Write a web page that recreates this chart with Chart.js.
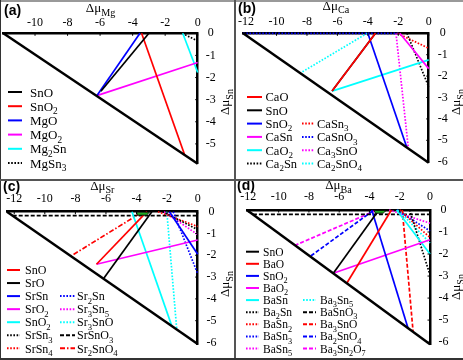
<!DOCTYPE html>
<html><head><meta charset="utf-8">
<script src="https://cdn.jsdelivr.net/npm/chart.js@4.4.0/dist/chart.umd.min.js"></script>
<style>
html,body{margin:0;padding:0;background:#fff;}
#wrap{position:relative;width:463px;height:360px;overflow:hidden;background:#fff;}
canvas{position:absolute;}
.ln{position:absolute;z-index:5;}
</style></head><body>
<div id="wrap">
<canvas id="ca" width="234" height="179" style="left:0;top:0;width:234px;height:179px"></canvas>
<canvas id="cb" width="229" height="179" style="left:234px;top:0;width:229px;height:179px"></canvas>
<canvas id="cc" width="234" height="180" style="left:0;top:180px;width:234px;height:180px"></canvas>
<canvas id="cd" width="229" height="180" style="left:234px;top:180px;width:229px;height:180px"></canvas>
<div class="ln" style="left:0;top:0;width:463px;height:2px;background:#999"></div>
<div class="ln" style="left:0;top:0;width:1px;height:360px;background:#333"></div>
<div class="ln" style="left:234px;top:0;width:1.5px;height:360px;background:#555"></div>
<div class="ln" style="left:0;top:179px;width:463px;height:1.5px;background:#555"></div>
<div class="ln" style="left:0;top:358px;width:463px;height:2px;background:#333"></div>
</div>
<script>
// ---------------- DATA ----------------
// tick labels
const aXTicks = [-10, -8, -6, -4, -2, 0];
const aYTicks = [0, -1, -2, -3, -4, -5];
const bXTicks = [-12, -10, -8, -6, -4, -2, 0];
const bYTicks = [0, -1, -2, -3, -4, -5, -6];

// axis titles (main, subscript)
const aXTitle = ['Δμ', 'Mg'];
const bXTitle = ['Δμ', 'Ca'];
const cXTitle = ['Δμ', 'Sr'];
const dXTitle = ['Δμ', 'Ba'];
const yTitle = ['Δμ', 'Sn'];

// Panel (a) : Mg-Sn-O
const aNames = ['SnO', 'SnO₂', 'MgO', 'MgO₂', 'Mg₂Sn', 'MgSn₃'];
const aX0 = [-3.0, -3.45, -3.55, -6.2, -0.92, -0.95];
const aY0 = [0, 0, 0, -2.82, 0, 0];
const aX1 = [-5.95, -0.8, -6.2, 0, 0, 0];
const aY1 = [-2.62, -5.5, -2.82, -1.32, -1.77, -0.35];
const aEdgeX = [-11.95, 0];
const aEdgeY = [0, -5.9];

// Panel (b) : Ca-Sn-O
const bNames = ['CaO', 'SnO', 'SnO₂', 'CaSn', 'CaO₂', 'Ca₂Sn', 'CaSn₃', 'CaSnO₃', 'Ca₃SnO', 'Ca₂SnO₄'];
const bX0 = [-3.5, -3.5, -4.0, -1.9, -6.35, -1.43, -2.05, -12.2, -2.15, -4.05];
const bY0 = [0, 0, 0, 0, -2.7, 0, 0, 0, 0, 0];
const bX1 = [-6.35, -6.35, -1.43, 0, 0, 0, 0, -2.0, -1.35, -8.42];
const bY1 = [-2.7, -2.7, -5.35, -1.65, -1.24, -2.5, -0.7, 0, -5.3, -1.85];
const bEdgeX = [-12.2, 0];
const bEdgeY = [0, -6.05];

// Panel (c) : Sr-Sn-O
const cNames = ['SnO', 'SrO', 'SrSn', 'SrO₂', 'SnO₂', 'SrSn₃', 'SrSn₄', 'Sr₂Sn', 'Sr₃Sn₅', 'Sr₃SnO', 'SrSnO₃', 'Sr₂SnO₄'];
const cX0 = [-3.32, -3.0, -1.85, -6.62, -4.3, -2.3, -2.6, -1.6, -2.2, -2.02, -12.1, -3.75];
const cY0 = [0, 0, 0, -2.41, 0, 0, 0, 0, 0, 0, -0.18, -0.07];
const cX1 = [-6.62, -6.14, 0, 0, -1.69, 0, 0, 0, 0, -1.37, 0, -8.26];
const cY1 = [-2.41, -3.05, -1.95, -1.3, -5.25, -0.82, -0.68, -2.85, -1.05, -5.4, -0.18, -2.02];
const cEdgeX = [-12.48, 0];
const cEdgeY = [0, -6.07];
const cRegionX = [-4.0, -3.15, -3.35, -3.95, -4.0];
const cRegionY = [-0.02, -0.02, -0.16, -0.16, -0.02];

// Panel (d) : Ba-Sn-O
const dNames = ['SnO', 'BaO', 'SnO₂', 'BaO₂', 'BaSn', 'Ba₂Sn', 'BaSn₂', 'BaSn₃', 'BaSn₅', 'Ba₃Sn₅', 'BaSnO₃', 'Ba₃SnO', 'Ba₂SnO₄', 'Ba₃Sn₂O₇'];
const dX0 = [-3.38, -2.55, -3.85, -6.3, -2.2, -1.35, -2.0, -2.2, -2.7, -2.1, -11.7, -1.83, -3.8, -3.6];
const dY0 = [0, 0, 0, -2.85, 0, 0, 0, 0, 0, 0, -0.2, 0, -0.05, -0.03];
const dX1 = [-6.4, -5.5, -1.45, 0, 0, 0, 0, 0, 0, 0, 0, -1.12, -7.9, -8.9];
const dY1 = [-2.88, -3.33, -5.37, -1.35, -2.0, -2.95, -1.25, -0.95, -0.6, -1.5, -0.2, -5.5, -2.1, -1.6];
const dEdgeX = [-12.1, 0];
const dEdgeY = [0, -6.1];
const dRegionX = [-3.7, -2.9, -3.1, -3.6, -3.7];
const dRegionY = [-0.02, -0.02, -0.15, -0.15, -0.02];

// ---------------- STYLES ----------------
const RED = '#ff0000', BLUE = '#0000ff', MAG = '#ff00ff', CYA = '#00ffff', BLK = '#000000';
const DOT = [1.6, 1.6], DASH = [4, 2], DASHDOT = [5, 2, 1.5, 2];
function st(c, d) { return { c: c, d: d || [] }; }
const aStyle = { 'SnO': st(BLK), 'SnO₂': st(RED), 'MgO': st(BLUE), 'MgO₂': st(MAG), 'Mg₂Sn': st(CYA), 'MgSn₃': st(BLK, DOT) };
const bStyle = { 'CaO': st(RED), 'SnO': st(BLK), 'SnO₂': st(BLUE), 'CaSn': st(MAG), 'CaO₂': st(CYA), 'Ca₂Sn': st(BLK, DOT),
  'CaSn₃': st(RED, DOT), 'CaSnO₃': st(BLUE, DOT), 'Ca₃SnO': st(MAG, DOT), 'Ca₂SnO₄': st(CYA, DOT) };
const cStyle = { 'SnO': st(RED), 'SrO': st(BLK), 'SrSn': st(BLUE), 'SrO₂': st(MAG), 'SnO₂': st(CYA), 'SrSn₃': st(BLK, DOT),
  'SrSn₄': st(RED, DOT), 'Sr₂Sn': st(BLUE, DOT), 'Sr₃Sn₅': st(MAG, DOT), 'Sr₃SnO': st(CYA, DOT), 'SrSnO₃': st(BLK, DASH), 'Sr₂SnO₄': st(RED, DASHDOT) };
const dStyle = { 'SnO': st(BLK), 'BaO': st(RED), 'SnO₂': st(BLUE), 'BaO₂': st(MAG), 'BaSn': st(CYA), 'Ba₂Sn': st(BLK, DOT),
  'BaSn₂': st(RED, DOT), 'BaSn₃': st(BLUE, DOT), 'BaSn₅': st(MAG, DOT), 'Ba₃Sn₅': st(CYA, DOT), 'BaSnO₃': st(BLK, DASH),
  'Ba₃SnO': st(RED, DASH), 'Ba₂SnO₄': st(BLUE, DASH), 'Ba₃Sn₂O₇': st(MAG, DASH) };

const SERIF = "'Liberation Serif','Times New Roman',serif";
const SUBS = { '₀': '0', '₁': '1', '₂': '2', '₃': '3', '₄': '4', '₅': '5', '₆': '6', '₇': '7', '₈': '8', '₉': '9' };

function chemRuns(text) {
  const runs = [];
  for (const ch of text) {
    const sub = !!SUBS[ch];
    const c = sub ? SUBS[ch] : ch;
    if (runs.length && runs[runs.length - 1].sub === sub) runs[runs.length - 1].t += c;
    else runs.push({ t: c, sub: sub });
  }
  return runs;
}
function drawChem(ctx, text, x, y, size) {
  let cx = x;
  ctx.textAlign = 'left'; ctx.textBaseline = 'alphabetic'; ctx.fillStyle = '#000';
  for (const r of chemRuns(text)) {
    const s = r.sub ? size * 0.72 : size;
    ctx.font = s + 'px ' + SERIF;
    ctx.fillText(r.t, cx, r.sub ? y + size * 0.28 : y);
    cx += ctx.measureText(r.t).width;
  }
}
function drawTitle(ctx, parts, cx, y, size) {
  ctx.font = size + 'px ' + SERIF;
  const w1 = ctx.measureText(parts[0]).width;
  ctx.font = (size * 0.78) + 'px ' + SERIF;
  const w2 = ctx.measureText(parts[1]).width;
  let x = cx - (w1 + w2) / 2;
  ctx.textAlign = 'left'; ctx.textBaseline = 'alphabetic'; ctx.fillStyle = '#000';
  ctx.font = size + 'px ' + SERIF;
  ctx.fillText(parts[0], x, y);
  ctx.font = (size * 0.78) + 'px ' + SERIF;
  ctx.fillText(parts[1], x + w1, y + size * 0.3);
}

const panelPlugin = {
  id: 'panelDeco',
  afterDatasetsDraw(chart, args, o) {
    const ctx = chart.ctx, a = chart.chartArea;
    const xs = chart.scales.x, ys = chart.scales.y;
    ctx.save();
    // inward tick marks
    ctx.strokeStyle = '#000'; ctx.lineWidth = 1; ctx.setLineDash([]);
    xs.ticks.forEach(t => { const p = xs.getPixelForValue(t.value); ctx.beginPath(); ctx.moveTo(p, a.top); ctx.lineTo(p, a.top + 2.5); ctx.stroke(); });
    ys.ticks.forEach(t => { const p = ys.getPixelForValue(t.value); ctx.beginPath(); ctx.moveTo(a.right, p); ctx.lineTo(a.right - 2.5, p); ctx.stroke(); });
    // panel label
    ctx.fillStyle = '#000'; ctx.textAlign = 'left'; ctx.textBaseline = 'alphabetic';
    ctx.font = "bold 14px 'Liberation Sans', Arial, sans-serif";
    ctx.fillText(o.tag, o.tagX, o.tagY);
    // axis titles
    drawTitle(ctx, o.xTitle, (a.left + a.right) / 2, o.xTitleY, 13);
    ctx.save();
    ctx.translate(o.yTitleX, o.yTitleY);
    ctx.rotate(-Math.PI / 2);
    drawTitle(ctx, yTitle, 0, 0, 13);
    ctx.restore();
    // legend
    o.cols.forEach(col => {
      col.names.forEach((name, k) => {
        const ds = chart.data.datasets.find(d => d.label === name);
        const y = o.y0 + (col.row0 + k) * o.dy;
        ctx.save();
        ctx.strokeStyle = ds.borderColor; ctx.lineWidth = 2;
        ctx.setLineDash(ds.borderDash || []);
        ctx.beginPath(); ctx.moveTo(col.lx0, y); ctx.lineTo(col.lx1, y); ctx.stroke();
        ctx.restore();
        drawChem(ctx, name, col.tx, y + o.size * 0.35, o.size);
      });
    });
    ctx.restore();
  }
};

function buildPanel(id, p) {
  const datasets = [];
  datasets.push({ label: '_edge', data: p.edgeX.map((x, i) => ({ x: x, y: p.edgeY[i] })), borderColor: '#000',
    borderWidth: 2.5, showLine: true, pointRadius: 0, clip: false });
  if (p.regionX) {
    datasets.push({ label: '_region', data: p.regionX.map((x, i) => ({ x: x, y: p.regionY[i] })), borderColor: '#000',
      borderWidth: 0.8, backgroundColor: '#22aa22', fill: 'shape', showLine: true, pointRadius: 0, clip: false });
  }
  p.names.forEach((n, i) => {
    const s = p.style[n];
    datasets.push({ label: n, data: [{ x: p.x0[i], y: p.y0[i] }, { x: p.x1[i], y: p.y1[i] }],
      borderColor: s.c, borderDash: s.d, borderWidth: 1.7, showLine: true, pointRadius: 0, clip: 2 });
  });
  const W = p.w, H = p.h, A = p.area;
  const tickFont = { family: SERIF, size: 12 };
  return new Chart(document.getElementById(id), {
    type: 'scatter',
    data: { datasets: datasets },
    options: {
      responsive: false, animation: false, devicePixelRatio: 1,
      layout: { padding: { left: A.left, top: 0, right: 0, bottom: H - A.bottom } },
      plugins: { legend: { display: false }, tooltip: { enabled: false }, panelDeco: p.deco },
      scales: {
        x: {
          type: 'linear', position: 'top', min: p.xMin, max: 0,
          afterBuildTicks: s => { s.ticks = p.xTicks.map(v => ({ value: v })); },
          afterFit: s => { s.height = A.top; },
          grid: { display: true, drawOnChartArea: false, drawTicks: false },
          border: { display: true, color: '#000', width: 2.5 },
          ticks: { color: '#000', font: tickFont, padding: p.xPad, maxRotation: 0, autoSkip: false, callback: v => String(v) }
        },
        y: {
          type: 'linear', position: 'right', min: p.yMin, max: 0,
          afterBuildTicks: s => { s.ticks = p.yTicks.map(v => ({ value: v })); },
          afterFit: s => { s.width = W - A.right; },
          grid: { display: true, drawOnChartArea: false, drawTicks: false },
          border: { display: true, color: '#000', width: 2.5 },
          ticks: { color: '#000', font: tickFont, padding: p.yPad, crossAlign: 'center', autoSkip: false, callback: v => String(v) }
        }
      }
    },
    plugins: [panelPlugin]
  });
}

buildPanel('ca', {
  w: 234, h: 179, area: { left: 3.3, right: 197.7, top: 33.3, bottom: 174.3 }, xMin: -11.95, yMin: -5.9,
  xTicks: aXTicks, yTicks: aYTicks, xPad: 3.5, yPad: 8,
  names: aNames, x0: aX0, y0: aY0, x1: aX1, y1: aY1, edgeX: aEdgeX, edgeY: aEdgeY, style: aStyle,
  deco: { tag: '(a)', tagX: 4, tagY: 15, xTitle: aXTitle, xTitleY: 12, yTitleX: 229, yTitleY: 102,
    size: 13, y0: 92, dy: 14.2, cols: [{ names: aNames, row0: 0, lx0: 8, lx1: 22, tx: 30 }] }
});
buildPanel('cb', {
  w: 229, h: 179, area: { left: 7, right: 194.7, top: 33.3, bottom: 175.7 }, xMin: -12.2, yMin: -6.05,
  xTicks: bXTicks, yTicks: bYTicks, xPad: 4, yPad: 9,
  names: bNames, x0: bX0, y0: bY0, x1: bX1, y1: bY1, edgeX: bEdgeX, edgeY: bEdgeY, style: bStyle,
  deco: { tag: '(b)', tagX: 4, tagY: 13, xTitle: bXTitle, xTitleY: 9.5, yTitleX: 226, yTitleY: 102,
    size: 12.5, y0: 97, dy: 13.3, cols: [
      { names: bNames.slice(0, 6), row0: 0, lx0: 13, lx1: 28, tx: 31.5 },
      { names: bNames.slice(6), row0: 2, lx0: 68, lx1: 80, tx: 83 }] }
});
buildPanel('cc', {
  w: 234, h: 180, area: { left: 6, right: 197.7, top: 31.7, bottom: 171.7 }, xMin: -12.48, yMin: -6.07,
  xTicks: bXTicks, yTicks: bYTicks, xPad: 6, yPad: 8.8,
  names: cNames, x0: cX0, y0: cY0, x1: cX1, y1: cY1, edgeX: cEdgeX, edgeY: cEdgeY, style: cStyle,
  regionX: cRegionX, regionY: cRegionY,
  deco: { tag: '(c)', tagX: 3, tagY: 11, xTitle: cXTitle, xTitleY: 9.5, yTitleX: 229, yTitleY: 104,
    size: 12, y0: 90, dy: 13.05, cols: [
      { names: cNames.slice(0, 7), row0: 0, lx0: 7, lx1: 20, tx: 25 },
      { names: cNames.slice(7), row0: 2, lx0: 60, lx1: 75, tx: 77 }] }
});
buildPanel('cd', {
  w: 229, h: 180, area: { left: 8.7, right: 196, top: 30, bottom: 165.7 }, xMin: -12.1, yMin: -6.1,
  xTicks: bXTicks, yTicks: bYTicks, xPad: 6.3, yPad: 8.5,
  names: dNames, x0: dX0, y0: dY0, x1: dX1, y1: dY1, edgeX: dEdgeX, edgeY: dEdgeY, style: dStyle,
  regionX: dRegionX, regionY: dRegionY,
  deco: { tag: '(d)', tagX: 3, tagY: 10, xTitle: dXTitle, xTitleY: 9, yTitleX: 226, yTitleY: 107,
    size: 11.5, y0: 71.7, dy: 12.1, cols: [
      { names: dNames.slice(0, 9), row0: 0, lx0: 12, lx1: 25, tx: 29 },
      { names: dNames.slice(9), row0: 4, lx0: 69, lx1: 82, tx: 86 }] }
});
</script>
</body></html>
